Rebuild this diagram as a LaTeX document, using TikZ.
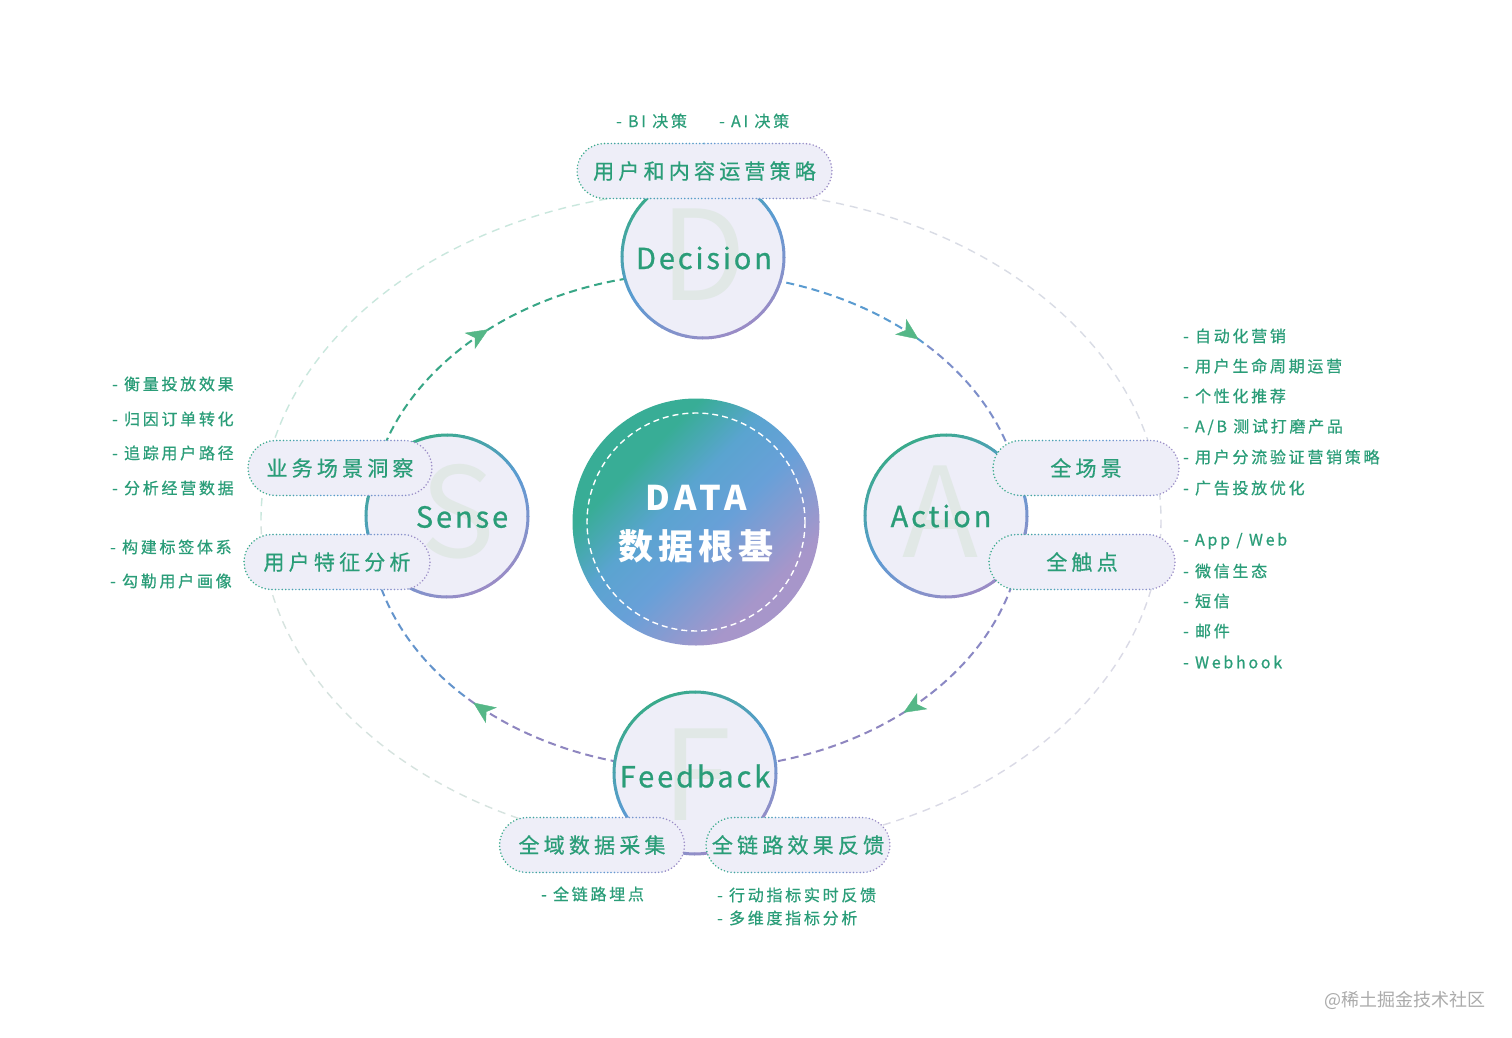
\documentclass[tikz,border=0pt]{standalone}
\usepackage{fontspec}
\usetikzlibrary{shapes.misc,arrows.meta,decorations.markings,calc}
\newfontfamily\cjk{Noto Sans CJK SC}
\newfontfamily\pillfont[LetterSpace=20,FakeBold=0.6]{Noto Sans CJK SC}
\newfontfamily\listfont[LetterSpace=17,FakeBold=0.6]{Noto Sans CJK SC}
\newfontfamily\latfont[LetterSpace=10,FakeBold=0.8]{Noto Sans CJK SC}
\newfontfamily\datafont[LetterSpace=15]{Noto Sans CJK SC}
\definecolor{tgreen}{HTML}{2A9D78}
\definecolor{gteal}{HTML}{3AAA8C}
\definecolor{gblue}{HTML}{5B9BD3}
\definecolor{gpurple}{HTML}{9A8CC6}
\definecolor{cfill}{HTML}{EEEEF8}
\definecolor{bigletter}{HTML}{E1E8E6}
\definecolor{arrowg}{HTML}{55B787}
\definecolor{ctrT}{HTML}{38AD96}
\definecolor{ctrB}{HTML}{68A0D8}
\definecolor{ctrB2}{HTML}{5AA4D0}
\definecolor{ctrP}{HTML}{A796CA}
\definecolor{outA}{HTML}{C9E7DD}
\definecolor{outB}{HTML}{D6E3DF}
\definecolor{outC}{HTML}{D9DCE5}
\definecolor{outD}{HTML}{DADAE6}
\definecolor{wmgrey}{HTML}{ABABAB}

\pgfdeclareverticalshading{datashade}{100bp}{color(0bp)=(ctrP); color(30bp)=(ctrP); color(46bp)=(ctrB); color(56bp)=(ctrB2); color(67bp)=(ctrT); color(100bp)=(ctrT)}

\newcommand{\gradring}[3]{%
  \foreach \k in {0,...,59}{%
    \pgfmathsetmacro\aa{\k*6}%
    \pgfmathsetmacro\ss{(1+cos(\aa+3-60))/2}%
    \pgfmathtruncatemacro\pp{\ss<0.5 ? 200*\ss : 200*(\ss-0.5)}%
    \ifdim\ss pt<0.5pt \colorlet{segc}{gblue!\pp!gteal}\else\colorlet{segc}{gpurple!\pp!gblue}\fi
    \draw[segc, line width=3pt] ({#1+#3*cos(\aa)},{#2+#3*sin(\aa)}) arc[start angle=\aa, end angle=\aa+6.5, radius=#3];
  }}

\newcommand{\pill}[5]{%
  \node[pillbox, minimum width=#4pt] (#1) at (#2,#3) {\pillfont #5};
  \foreach \k in {0,...,7}{%
    \pgfmathsetmacro\xl{#2-#4/2-4+\k*(#4+8)/8}%
    \pgfmathsetmacro\xr{\xl+(#4+8)/8}%
    \pgfmathsetmacro\ss{\k/7}%
    \pgfmathtruncatemacro\pp{\ss<0.5 ? 200*\ss : 200*(\ss-0.5)}%
    \ifdim\ss pt<0.5pt \colorlet{segc}{gblue!\pp!gteal}\else\colorlet{segc}{gpurple!\pp!gblue}\fi
    \begin{scope}
      \clip (\xl,#3-40) rectangle (\xr,#3+40);
      \node[pillbox, fill=none, draw=segc, pilldots, minimum width=#4pt] at (#2,#3) {};
    \end{scope}
  }}

\begin{document}
\begin{tikzpicture}[x=1pt,y=-1pt,
  pillbox/.style={rounded rectangle, fill=cfill, minimum height=55pt, inner sep=0pt, text=tgreen, font=\fontsize{21}{24}\selectfont},
  pilldots/.style={dash pattern=on 0pt off 3.4pt, line cap=round, line width=1.7pt},
  stagecirc/.style={circle, fill=cfill, minimum size=162pt, inner sep=0pt},
  bigl/.style={text=bigletter, font=\cjk\fontsize{125}{130}\selectfont, inner sep=0pt},
  stagelbl/.style={text=tgreen, font=\latfont\fontsize{29}{32}\selectfont, inner sep=0pt},
  listtxt/.style={text=tgreen, font=\listfont\fontsize{16}{19}\selectfont, inner sep=0pt, anchor=west},
  innerdash/.style={line width=2pt, dash pattern=on 8pt off 5pt},
  outerdash/.style={line width=1.4pt, dash pattern=on 8pt off 6pt},
  flowtip/.style={decorate, decoration={markings, mark=at position 0.52 with {\arrow[arrowg]{Stealth[length=22pt, width=19pt, inset=6pt]}}}}
]
\useasboundingbox (0,0) rectangle (1512,1038);
\fill[white] (0,0) rectangle (1512,1038);

% outer faint ellipse
\coordinate (oc) at (711,520);
\draw[outerdash, outA] (261,520) arc[start angle=180, end angle=270, x radius=450, y radius=330];
\draw[outerdash, outC] (711,190) arc[start angle=270, end angle=360, x radius=450, y radius=330];
\draw[outerdash, outD] (1161,520) arc[start angle=0, end angle=90, x radius=450, y radius=330];
\draw[outerdash, outB] (711,850) arc[start angle=90, end angle=180, x radius=450, y radius=330];

% inner cycle (Sense -> Decision -> Action -> Feedback -> Sense)
\coordinate (eL) at (369,521);
\coordinate (eT) at (696,273);
\coordinate (eR) at (1023,521);
\coordinate (eB) at (696,769);
\coordinate (eTR) at ($(696,521)+({327*cos(315)},{248*sin(315)})$);
\coordinate (eBR) at ($(696,521)+({327*cos(45)},{248*sin(45)})$);
\coordinate (eBL) at ($(696,521)+({327*cos(135)},{248*sin(135)})$);
\draw[innerdash, color={rgb,255:red,56;green,166;blue,134}] (eL) arc[start angle=180, end angle=270, x radius=327, y radius=248];
\draw[innerdash, color={rgb,255:red,90;green,155;blue,208}] (eT) arc[start angle=270, end angle=315, x radius=327, y radius=248];
\draw[innerdash, color={rgb,255:red,125;green,143;blue,202}] (eTR) arc[start angle=315, end angle=360, x radius=327, y radius=248];
\draw[innerdash, color={rgb,255:red,138;green,136;blue,196}] (eR) arc[start angle=0, end angle=45, x radius=327, y radius=248];
\draw[innerdash, color={rgb,255:red,142;green,134;blue,192}] (eBR) arc[start angle=45, end angle=90, x radius=327, y radius=248];
\draw[innerdash, color={rgb,255:red,142;green,134;blue,192}] (eB) arc[start angle=90, end angle=135, x radius=327, y radius=248];
\draw[innerdash, color={rgb,255:red,100;green,148;blue,204}] (eBL) arc[start angle=135, end angle=180, x radius=327, y radius=248];
\path[flowtip] (eL) arc[start angle=180, end angle=270, x radius=327, y radius=248];
\path[flowtip] (eT) arc[start angle=270, end angle=360, x radius=327, y radius=248];
\path[flowtip] (eR) arc[start angle=0, end angle=90, x radius=327, y radius=248];
\path[flowtip] (eB) arc[start angle=90, end angle=180, x radius=327, y radius=248];

% stage circles
\node[stagecirc] (dec) at (703,257) {};
\node[bigl] (decL) at (703,255) {D};
\gradring{703}{257}{81}
\node[stagelbl] (decT) at (704,258) {Decision};

\node[stagecirc] (sen) at (447,516) {};
\node[bigl] (senL) at (458,512) {S};
\gradring{447}{516}{81}
\node[stagelbl] (senT) at (462,517) {Sense};

\node[stagecirc] (act) at (946,516) {};
\node[bigl] (actL) at (940,512) {A};
\gradring{946}{516}{81}
\node[stagelbl] (actT) at (941,516) {Action};

\node[stagecirc] (fb) at (695,773) {};
\node[bigl] (fbL) at (697,775) {F};
\gradring{695}{773}{81}
\node[stagelbl] (fbT) at (695,776) {Feedback};

% center data circle
\node[circle, minimum size=247pt, inner sep=0pt, shading=datashade, shading angle=45] (data) at (696,522) {};
\draw[white, line width=1.4pt, dash pattern=on 6pt off 4pt] (data.center) circle[radius=109];
\node[text=white, font=\datafont\bfseries\fontsize{34}{38}\selectfont, inner sep=0pt] (dataT) at (696,498) {DATA};
\node[text=white, font=\datafont\bfseries\fontsize{35}{38}\selectfont, inner sep=0pt] (dataC) at (696,546) {数据根基};

% pills
\pill{pDec}{704.5}{171}{255}{用户和内容运营策略}
\pill{pSen1}{340}{468}{184}{业务场景洞察}
\pill{pSen2}{337}{562}{186}{用户特征分析}
\pill{pAct1}{1086}{468}{186}{全场景}
\pill{pAct2}{1082}{562}{186}{全触点}
\pill{pFb1}{592}{845}{185}{全域数据采集}
\pill{pFb2}{798}{845}{184}{全链路效果反馈}

% lists
\node[listtxt] (t1) at (616,121) {- BI 决策};
\node[listtxt] (t2) at (719,121) {- AI 决策};

\node[listtxt] (l1) at (112,384) {- 衡量投放效果};
\node[listtxt] (l2) at (112,419) {- 归因订单转化};
\node[listtxt] (l3) at (112,453) {- 追踪用户路径};
\node[listtxt] (l4) at (112,488) {- 分析经营数据};
\node[listtxt] (l5) at (110,547) {- 构建标签体系};
\node[listtxt] (l6) at (110,581) {- 勾勒用户画像};

\node[listtxt] (r1) at (1183,336) {- 自动化营销};
\node[listtxt] (r2) at (1183,366) {- 用户生命周期运营};
\node[listtxt] (r3) at (1183,396) {- 个性化推荐};
\node[listtxt] (r4) at (1183,427) {- A/B 测试打磨产品};
\node[listtxt] (r5) at (1183,457) {- 用户分流验证营销策略};
\node[listtxt] (r6) at (1183,488) {- 广告投放优化};
\node[listtxt] (r7) at (1183,541) {- App / Web};
\node[listtxt] (r8) at (1183,571) {- 微信生态};
\node[listtxt] (r9) at (1183,601) {- 短信};
\node[listtxt] (r10) at (1183,631) {- 邮件};
\node[listtxt] (r11) at (1183,662) {- Webhook};

\node[listtxt] (b1) at (541,894) {- 全链路埋点};
\node[listtxt] (b2) at (717,895) {- 行动指标实时反馈};
\node[listtxt] (b3) at (717,918) {- 多维度指标分析};

\node[text=wmgrey, font=\cjk\fontsize{18}{20}\selectfont, inner sep=0pt, anchor=east] (wm) at (1486,1000) {@稀土掘金技术社区};
\end{tikzpicture}
\end{document}
